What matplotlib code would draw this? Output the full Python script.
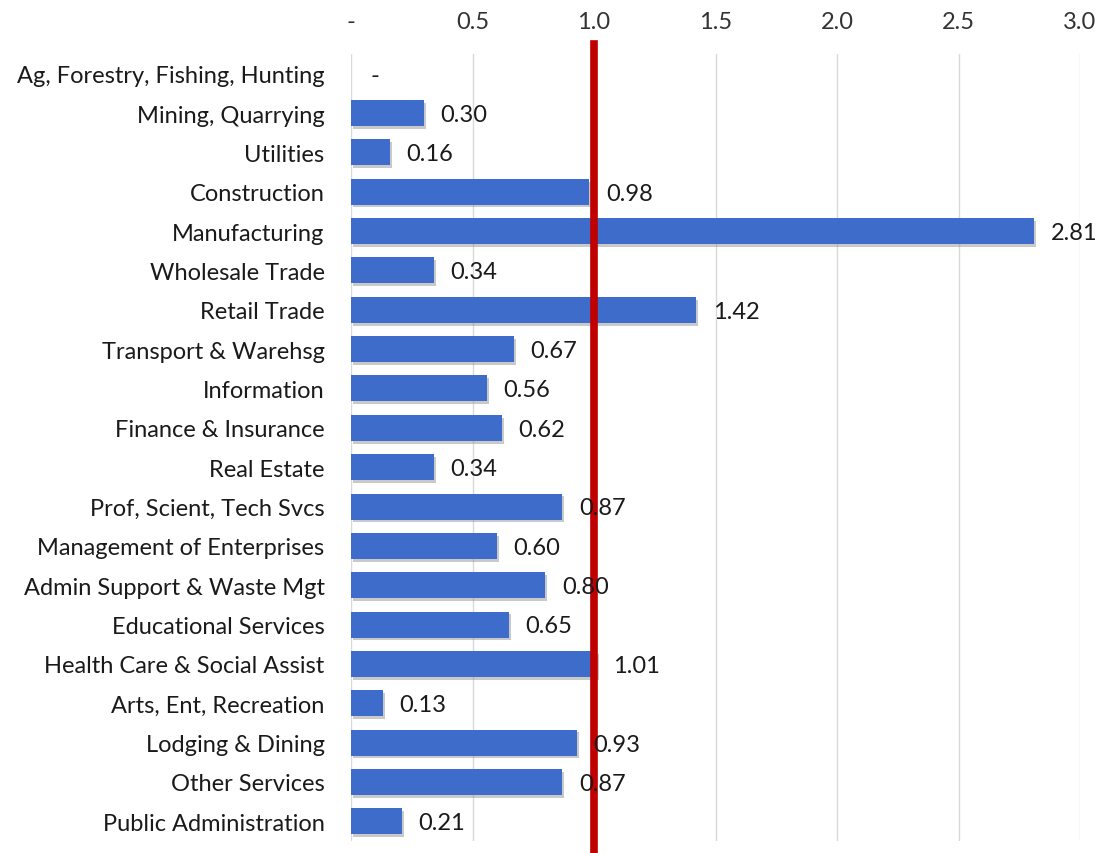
import matplotlib
matplotlib.use("Agg")
import matplotlib.pyplot as plt
import matplotlib.patheffects as pe

categories = ["Ag, Forestry, Fishing, Hunting", "Mining, Quarrying", "Utilities",
              "Construction", "Manufacturing", "Wholesale Trade", "Retail Trade",
              "Transport & Warehsg", "Information", "Finance & Insurance", "Real Estate",
              "Prof, Scient, Tech Svcs", "Management of Enterprises",
              "Admin Support & Waste Mgt", "Educational Services",
              "Health Care & Social Assist", "Arts, Ent, Recreation",
              "Lodging & Dining", "Other Services", "Public Administration"]
values = [0.00, 0.30, 0.16, 0.98, 2.81, 0.34, 1.42, 0.67, 0.56, 0.62, 0.34,
          0.87, 0.60, 0.80, 0.65, 1.01, 0.13, 0.93, 0.87, 0.21]
xticks = [0, 0.5, 1.0, 1.5, 2.0, 2.5, 3.0]
xticklabels = ["-", "0.5", "1.0", "1.5", "2.0", "2.5", "3.0"]
ref_line = 1.0

plt.rcParams['font.family'] = ['Lato', 'DejaVu Sans']

fig = plt.figure(figsize=(11, 8.54), dpi=100)
ax = fig.add_axes([351/1100, 1-842/854, (1080-351)/1100, (842-55)/854])

y = list(range(len(categories)))
bars = ax.barh(y, values, height=0.66, color="#3E6CCB", zorder=3)
for b in bars:
    b.set_path_effects([pe.SimplePatchShadow(offset=(1.5, -2), shadow_rgbFace="#888888", alpha=0.45), pe.Normal()])

for yi, v in zip(y, values):
    lab = "-" if v == 0 else f"{v:.2f}"
    ax.annotate(lab, (v, yi), xytext=(12 if v > 0 else 14, -1), textcoords="offset points",
                ha="left", va="center", fontsize=17, color="#1a1a1a", zorder=5)

ax.axvline(ref_line, ymin=-0.02, ymax=1.013, color="#C00000", lw=5.5, zorder=4, clip_on=False)

ax.set_xlim(0, 3.0)
ax.set_ylim(len(categories) - 0.5, -0.5)
ax.set_yticks(y)
ax.set_yticklabels(categories, fontsize=17, color="#1a1a1a")
ax.xaxis.tick_top()
ax.set_xticks(xticks)
ax.set_xticklabels(xticklabels, fontsize=17, color="#333333")
ax.tick_params(axis="both", length=0)
ax.tick_params(axis="x", pad=16)
ax.tick_params(axis="y", pad=19)
ax.grid(axis="x", color="#D9D9D9", lw=1, zorder=0)
for s in ax.spines.values():
    s.set_visible(False)

fig.savefig("out.png", dpi=100, facecolor="white")
